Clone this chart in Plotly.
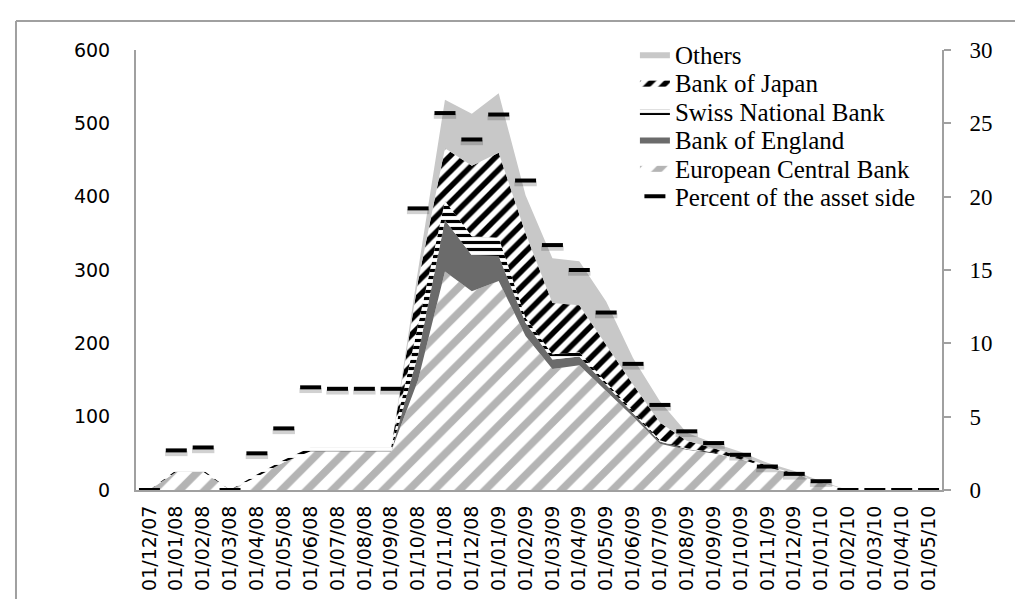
import plotly.graph_objects as go

categories = ["01/12/07", "01/01/08", "01/02/08", "01/03/08", "01/04/08", "01/05/08",
              "01/06/08", "01/07/08", "01/08/08", "01/09/08", "01/10/08", "01/11/08",
              "01/12/08", "01/01/09", "01/02/09", "01/03/09", "01/04/09", "01/05/09",
              "01/06/09", "01/07/09", "01/08/09", "01/09/09", "01/10/09", "01/11/09",
              "01/12/09", "01/01/10", "01/02/10", "01/03/10", "01/04/10", "01/05/10"]

ecb = [0, 25, 25, 0, 18, 38, 53, 53, 53, 53, 150, 298, 271, 285, 210, 165, 170, 135,
       100, 63, 55, 50, 42, 31, 22, 10, 0, 0, 0, 0]
boe = [0, 0, 0, 0, 0, 0, 0, 0, 0, 0, 35, 70, 49, 34, 18, 13, 12, 8,
       5, 3, 1, 0, 0, 0, 0, 0, 0, 0, 0, 0]
snb = [0, 2, 2, 0, 3, 3, 5, 5, 5, 5, 40, 26, 26, 25, 7, 7, 6, 4,
       3, 2, 1, 1, 0, 0, 0, 0, 0, 0, 0, 0]
boj = [0, 0, 0, 0, 0, 0, 0, 0, 0, 0, 60, 72, 96, 116, 115, 70, 64, 51,
       36, 24, 10, 6, 4, 2, 1, 0, 0, 0, 0, 0]
others = [0, 0, 0, 0, 0, 0, 0, 0, 0, 0, 15, 66, 71, 81, 52, 61, 60, 59,
          36, 29, 11, 7, 6, 4, 3, 2, 0, 0, 0, 0]
percent = [0, 2.7, 2.9, 0, 2.5, 4.2, 7.0, 6.9, 6.9, 6.9, 19.2, 25.7, 23.9, 25.6, 21.1,
           16.7, 15.0, 12.1, 8.6, 5.8, 4.0, 3.2, 2.4, 1.6, 1.1, 0.6, 0, 0, 0, 0]

legend_names = ["Others", "Bank of Japan", "Swiss National Bank", "Bank of England",
                "European Central Bank", "Percent of the asset side"]

fig = go.Figure()

# plot area geometry (pixels) used to place the per-row legends
PLOT_TOP, PLOT_BOTTOM = 42, 482
ROW0, ROW_STEP = 46.5, 28.4


def legend_id(name):
    i = legend_names.index(name)
    return "legend" if i == 0 else f"legend{i + 1}"


def area(name, vals, color=None, pattern=None):
    kw = dict(x=categories, y=vals, name=name, mode="lines", stackgroup="one",
              line=dict(width=0, color=color or "white"), legend=legend_id(name),
              hoverinfo="skip")
    if pattern is not None:
        kw["fillpattern"] = pattern
        kw["fillcolor"] = "white"
    else:
        kw["fillcolor"] = color
    fig.add_trace(go.Scatter(**kw))


area("European Central Bank", ecb,
     pattern=dict(shape="/", fgcolor="#b4b4b4", bgcolor="white", size=18,
                  solidity=0.42, fgopacity=1))
area("Bank of England", boe, color="#6b6b6b")
area("Swiss National Bank", snb,
     pattern=dict(shape="-", fgcolor="black", bgcolor="white", size=7,
                  solidity=0.45, fgopacity=1))
area("Bank of Japan", boj,
     pattern=dict(shape="/", fgcolor="black", bgcolor="white", size=11,
                  solidity=0.5, fgopacity=1))
area("Others", others, color="#c8c8c8")

# soft shadow under the percent dashes
fig.add_trace(go.Scatter(x=categories, y=[p - 0.22 for p in percent], mode="markers",
                         yaxis="y2", showlegend=False, hoverinfo="skip",
                         marker=dict(symbol="line-ew", size=16,
                                     line=dict(width=5, color="rgba(0,0,0,0.18)"))))
fig.add_trace(go.Scatter(x=categories, y=percent, name="Percent of the asset side",
                         mode="markers", yaxis="y2",
                         legend=legend_id("Percent of the asset side"),
                         marker=dict(symbol="line-ew", size=15,
                                     line=dict(width=4, color="black"), color="black")))

axis_gray = "#a0a0a0"

legends = {}
for i, name in enumerate(legend_names):
    key = "legend" if i == 0 else f"legend{i + 1}"
    ypix = ROW0 + i * ROW_STEP
    legends[key] = dict(x=0.619, y=(PLOT_BOTTOM - ypix) / (PLOT_BOTTOM - PLOT_TOP),
                        xanchor="left", yanchor="middle",
                        font=dict(family="Liberation Serif", size=25, color="black"),
                        bgcolor="rgba(0,0,0,0)", itemwidth=30)

fig.update_layout(
    width=1023, height=599,
    margin=dict(l=128, r=89, t=PLOT_TOP, b=599 - PLOT_BOTTOM),
    paper_bgcolor="white", plot_bgcolor="white",
    showlegend=True,
    xaxis=dict(type="category", range=[-0.5, 29.5], tickangle=-90,
               tickfont=dict(family="DejaVu Sans", size=19, color="black"),
               showline=True, linecolor=axis_gray, linewidth=2,
               showgrid=False, ticks="", ticklabelstandoff=6, zeroline=False),
    yaxis=dict(range=[0, 600], dtick=100, showgrid=False, zeroline=False,
               showline=True, linecolor=axis_gray, linewidth=2, ticks="",
               tickfont=dict(family="DejaVu Sans", size=19, color="black"),
               ticklabelstandoff=20),
    yaxis2=dict(range=[0, 30], dtick=5, overlaying="y", side="right",
                showgrid=False, zeroline=False, showline=True, linecolor=axis_gray,
                linewidth=2, ticks="outside", ticklen=7, tickcolor=axis_gray, tickwidth=2,
                tickfont=dict(family="Liberation Serif", size=23, color="black"),
                ticklabelstandoff=14),
    shapes=[
        dict(type="line", xref="paper", yref="paper", x0=-0.1489, x1=1.2,
             y0=1.066, y1=1.066, line=dict(color=axis_gray, width=2)),
        dict(type="line", xref="paper", yref="paper", x0=-0.1489, x1=-0.1489,
             y0=1.066, y1=-0.4, line=dict(color=axis_gray, width=2)),
    ],
    **legends,
)

fig.write_html("out.html")
